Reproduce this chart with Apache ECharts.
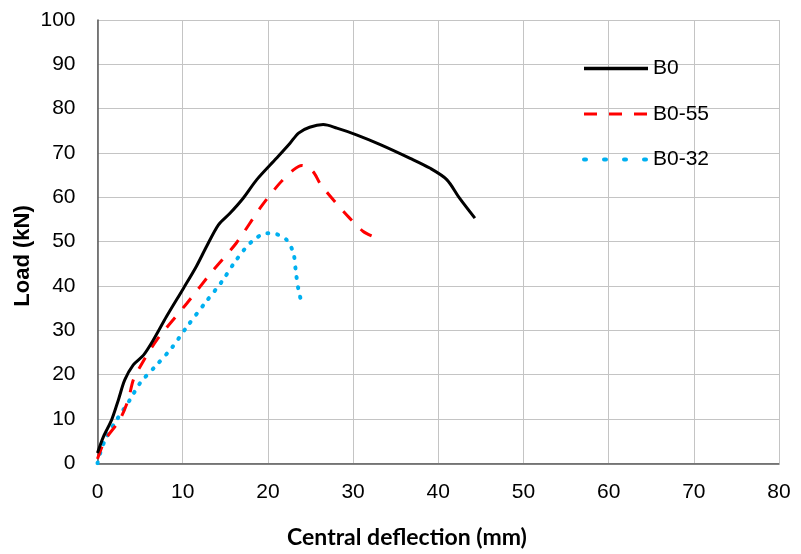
<!DOCTYPE html>
<html>
<head>
<meta charset="utf-8">
<script src="https://cdn.jsdelivr.net/npm/echarts@6/dist/echarts.min.js"></script>
<style>html,body{margin:0;padding:0;background:#fff;}#c{width:801px;height:554px;}</style>
</head>
<body>
<div id="c"></div>
<script>
// Data (deflection mm, load kN)
const b0X = [0.0, 0.7, 1.66, 2.45, 3.2, 4.2, 5.4, 6.55, 8.1, 10.1, 11.6, 12.8, 14.2, 15.55, 17.1, 18.7, 21.0, 22.6, 23.6, 24.9, 26.5, 28.1, 30.4, 33.2, 36.7, 39.0, 41.0, 42.5, 44.3];
const b0Y = [2.3, 6.0, 9.8, 14.3, 18.8, 22.2, 24.4, 27.8, 33.1, 39.5, 44.4, 48.9, 53.8, 56.4, 59.8, 64.0, 68.8, 72.2, 74.5, 75.8, 76.4, 75.6, 74.1, 71.9, 68.8, 66.6, 64.0, 59.8, 55.3];
const b055X = [0.0, 0.9, 2.6, 3.6, 4.2, 5.0, 6.95, 10.5, 13.6, 16.3, 19.1, 21.4, 23.0, 24.0, 25.3, 26.1, 27.7, 29.6, 31.2, 32.3];
const b055Y = [1.0, 5.3, 9.8, 14.3, 18.8, 21.8, 27.8, 36.1, 43.6, 49.7, 57.6, 63.2, 66.2, 67.2, 65.8, 63.2, 59.4, 55.3, 52.3, 51.2];
const b032X = [0.0, 0.3, 0.9, 2.25, 3.8, 5.0, 6.95, 8.7, 10.5, 12.6, 14.6, 16.3, 18.1, 19.9, 21.0, 22.2, 23.0, 23.3, 23.6, 24.0];
const b032Y = [0.0, 2.2, 5.3, 9.8, 14.3, 18.1, 22.2, 26.0, 30.8, 36.1, 41.0, 45.9, 50.0, 51.9, 51.7, 50.4, 47.4, 42.9, 39.1, 35.9];
const seriesNames = ['B0', 'B0-55', 'B0-32'];
const xTitle = 'Central deflection (mm)';
const yTitle = 'Load (kN)';

const zip = (xs, ys) => xs.map((x, i) => [x, ys[i]]);

const styles = [
  {color: '#000000', width: 3, type: 'solid', cap: 'butt'},
  {color: '#ff0000', width: 3, type: [13, 12], cap: 'butt'},
  {color: '#00b0f0', width: 4, type: [1, 9], cap: 'round'}
];
const legendStyles = [
  {color: '#000000', width: 3.5, type: 'solid'},
  {color: '#ff0000', width: 3, type: [13, 12]},
  {color: '#00b0f0', width: 4, type: [2, 18], cap: 'round'}
];

const chart = echarts.init(document.getElementById('c'), null, {renderer: 'canvas'});
const tickFont = {fontFamily: 'Liberation Sans, Arial, sans-serif', fontSize: 21, color: '#000'};
chart.setOption({
  animation: false,
  backgroundColor: '#fff',
  grid: {left: 97.5, right: 22, top: 20, bottom: 90.7, containLabel: false},
  xAxis: {
    type: 'value', min: 0, max: 80, interval: 10,
    axisLine: {show: true, lineStyle: {color: '#595959', width: 1.5}},
    axisTick: {show: false},
    splitLine: {show: true, lineStyle: {color: '#c4c4c4', width: 1}},
    axisLabel: Object.assign({margin: 18}, tickFont)
  },
  yAxis: {
    type: 'value', min: 0, max: 100, interval: 10,
    axisLine: {show: true, lineStyle: {color: '#595959', width: 1.5}},
    axisTick: {show: false},
    splitLine: {show: true, lineStyle: {color: '#c4c4c4', width: 1}},
    axisLabel: Object.assign({margin: 22}, tickFont)
  },
  legend: {
    orient: 'vertical', left: 582, top: 58, padding: 0,
    itemWidth: 64, itemHeight: 21, itemGap: 24.5,
    itemStyle: {opacity: 0},
    textStyle: {fontFamily: 'Liberation Sans, Arial, sans-serif', fontSize: 21, color: '#000', padding: [0, 0, 0, 0]},
    data: seriesNames.map((n, i) => ({name: n, lineStyle: legendStyles[i], itemStyle: {opacity: 0}}))
  },
  graphic: [
    {type: 'text', style: {text: xTitle, x: 407, y: 538, textAlign: 'center', textVerticalAlign: 'middle', font: 'bold 23px Lato, "Open Sans", sans-serif', fill: '#000'}},
    {type: 'text', rotation: Math.PI / 2, x: 23, y: 256, style: {text: yTitle, x: 0, y: 0, textAlign: 'center', textVerticalAlign: 'middle', font: 'bold 22px "Liberation Sans", Arial, sans-serif', fill: '#000'}}
  ],
  series: [
    {name: seriesNames[2], type: 'line', data: zip(b032X, b032Y), symbol: 'none', smooth: 0.3, z: 3,
     lineStyle: styles[2], itemStyle: {color: styles[2].color}},
    {name: seriesNames[1], type: 'line', data: zip(b055X, b055Y), symbol: 'none', smooth: 0.3, z: 4,
     lineStyle: styles[1], itemStyle: {color: styles[1].color}},
    {name: seriesNames[0], type: 'line', data: zip(b0X, b0Y), symbol: 'none', smooth: 0.3, z: 5,
     lineStyle: styles[0], itemStyle: {color: styles[0].color}}
  ]
});
</script>
</body>
</html>
